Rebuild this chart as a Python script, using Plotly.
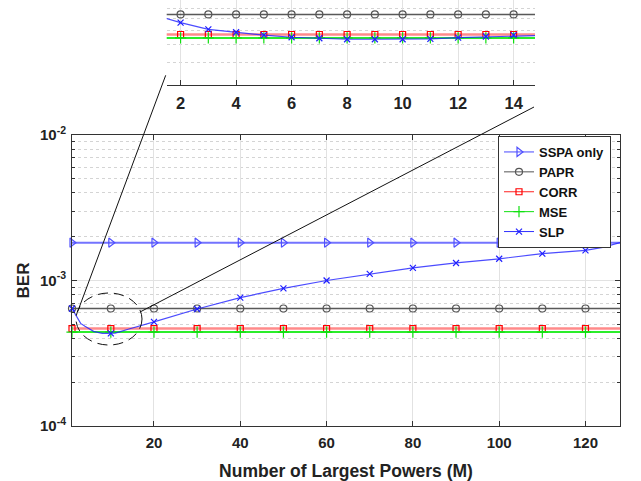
import plotly.graph_objects as go

# ---------------- data ----------------
M = [1, 2, 3, 4, 5, 6, 7, 8, 9, 10, 11, 12, 13, 14,
     20, 30, 40, 50, 60, 70, 80, 90, 100, 110, 120, 124, 126, 128]

ber_sspa = [1.82e-3, 1.82e-3, 1.82e-3, 1.82e-3, 1.82e-3, 1.82e-3, 1.82e-3,
            1.82e-3, 1.82e-3, 1.82e-3, 1.82e-3, 1.82e-3, 1.82e-3, 1.82e-3,
            1.82e-3, 1.82e-3, 1.82e-3, 1.82e-3, 1.82e-3, 1.82e-3, 1.82e-3,
            1.82e-3, 1.82e-3, 1.82e-3, 1.82e-3, 1.82e-3, 1.82e-3, 1.82e-3]
ber_papr = [6.42e-4, 6.42e-4, 6.42e-4, 6.42e-4, 6.42e-4, 6.42e-4, 6.42e-4,
            6.42e-4, 6.42e-4, 6.42e-4, 6.42e-4, 6.42e-4, 6.42e-4, 6.42e-4,
            6.42e-4, 6.42e-4, 6.42e-4, 6.42e-4, 6.42e-4, 6.42e-4, 6.42e-4,
            6.42e-4, 6.42e-4, 6.42e-4, 6.42e-4, 6.42e-4, 6.42e-4, 6.42e-4]
ber_corr = [4.67e-4, 4.67e-4, 4.67e-4, 4.67e-4, 4.67e-4, 4.67e-4, 4.67e-4,
            4.67e-4, 4.67e-4, 4.67e-4, 4.67e-4, 4.67e-4, 4.67e-4, 4.67e-4,
            4.67e-4, 4.67e-4, 4.67e-4, 4.67e-4, 4.67e-4, 4.67e-4, 4.67e-4,
            4.67e-4, 4.67e-4, 4.67e-4, 4.67e-4, 4.67e-4, 4.67e-4, 4.67e-4]
ber_mse = [4.42e-4, 4.42e-4, 4.42e-4, 4.42e-4, 4.42e-4, 4.42e-4, 4.42e-4,
           4.42e-4, 4.42e-4, 4.42e-4, 4.42e-4, 4.42e-4, 4.42e-4, 4.42e-4,
           4.42e-4, 4.42e-4, 4.42e-4, 4.42e-4, 4.42e-4, 4.42e-4, 4.42e-4,
           4.42e-4, 4.42e-4, 4.42e-4, 4.42e-4, 4.42e-4, 4.42e-4, 4.42e-4]
ber_slp = [6.42e-4, 5.64e-4, 5.07e-4, 4.84e-4, 4.62e-4, 4.47e-4, 4.40e-4,
           4.33e-4, 4.33e-4, 4.33e-4, 4.35e-4, 4.44e-4, 4.52e-4, 4.62e-4,
           5.19e-4, 6.37e-4, 7.62e-4, 8.83e-4, 1.00e-3, 1.11e-3, 1.22e-3,
           1.32e-3, 1.41e-3, 1.53e-3, 1.61e-3, 1.69e-3, 1.746e-3, 1.82e-3]

series_names = ["SSPA only", "PAPR", "CORR", "MSE", "SLP"]
series_values = [ber_sspa, ber_papr, ber_corr, ber_mse, ber_slp]

main_marker_M = [1, 10, 20, 30, 40, 50, 60, 70, 80, 90, 100, 110, 120]
inset_marker_M = [2, 3, 4, 5, 6, 7, 8, 9, 10, 11, 12, 13, 14]

x_ticks_main = [20, 40, 60, 80, 100, 120]
x_ticks_inset = [2, 4, 6, 8, 10, 12, 14]
y_ticks = [1e-4, 1e-3, 1e-2]
y_ticktext = ["10<sup>-4</sup>", "10<sup>-3</sup>", "10<sup>-2</sup>"]
y_minor = [2e-4, 3e-4, 4e-4, 5e-4, 6e-4, 7e-4, 8e-4, 9e-4,
           2e-3, 3e-3, 4e-3, 5e-3, 6e-3, 7e-3, 8e-3, 9e-3]
inset_minor = [2e-4, 3e-4, 4e-4, 5e-4, 6e-4, 7e-4, 8e-4, 9e-4]

# ---------------- styles ----------------
styles = {
    "SSPA only": dict(line=dict(color="rgba(40,40,255,0.65)", width=2),
                      marker=dict(symbol="triangle-right-open", size=8, color="#5050ff",
                                  line=dict(width=1.2, color="#5050ff"))),
    "PAPR": dict(line=dict(color="rgba(60,60,60,0.85)", width=1.5),
                 marker=dict(symbol="circle-open", size=7, color="#555555",
                             line=dict(width=1.2, color="#555555"))),
    "CORR": dict(line=dict(color="rgba(255,60,60,0.6)", width=2.5),
                 marker=dict(symbol="square-open", size=6, color="#ff0000",
                             line=dict(width=1.2, color="#ff0000"))),
    "MSE": dict(line=dict(color="rgba(20,235,20,0.9)", width=2),
                marker=dict(symbol="cross-thin-open", size=8, color="#10e010",
                            line=dict(width=1.2, color="#10e010"))),
    "SLP": dict(line=dict(color="rgba(30,30,255,0.8)", width=1.2),
                marker=dict(symbol="x-thin-open", size=6, color="#2020ff",
                            line=dict(width=1.2, color="#2020ff"))),
}
legend_line = {
    "SSPA only": dict(color="#4848ff", width=1),
    "PAPR": dict(color="#555555", width=1),
    "CORR": dict(color="#ff2020", width=1),
    "MSE": dict(color="#10e010", width=1),
    "SLP": dict(color="#3030ff", width=1),
}

FONT = "Liberation Sans, Arial, sans-serif"
W, H = 641, 481
ML, MR, MT, MB = 72, 21, 0, 55
PW, PH = W - ML - MR, H - MT - MB


def px(xp):
    return (xp - ML) / PW


def py(yp):
    return (H - MB - yp) / PH


fig = go.Figure()

for name, vals in zip(series_names, series_values):
    st = styles[name]
    fig.add_trace(go.Scatter(x=M, y=vals, mode="lines", line=st["line"],
                             xaxis="x", yaxis="y", showlegend=False, hoverinfo="skip"))
    mx = [m for m in M if m in main_marker_M]
    my = [v for m, v in zip(M, vals) if m in main_marker_M]
    fig.add_trace(go.Scatter(x=mx, y=my, mode="markers", marker=st["marker"],
                             xaxis="x", yaxis="y", showlegend=False, cliponaxis=False))
    fig.add_trace(go.Scatter(x=M, y=vals, mode="lines", line=st["line"],
                             xaxis="x2", yaxis="y2", showlegend=False))
    ix = [m for m in M if m in inset_marker_M]
    iy = [v for m, v in zip(M, vals) if m in inset_marker_M]
    fig.add_trace(go.Scatter(x=ix, y=iy, mode="markers", marker=st["marker"],
                             xaxis="x2", yaxis="y2", showlegend=False))

# legend entries
for name in series_names:
    st = styles[name]
    fig.add_trace(go.Scatter(x=[None], y=[None], mode="lines+markers", name=name,
                             line=legend_line[name], marker=st["marker"],
                             xaxis="x", yaxis="y"))

bold = dict(family=FONT, weight="bold", color="#222222")

fig.update_layout(
    width=W, height=H,
    margin=dict(l=ML, r=MR, t=MT, b=MB, autoexpand=False),
    paper_bgcolor="white", plot_bgcolor="white",
    font=dict(family=FONT, color="#222222"),
    showlegend=True,
    legend=dict(x=px(498), y=py(136), xanchor="left", yanchor="top",
                bgcolor="white", bordercolor="#333333", borderwidth=1,
                font=dict(family=FONT, size=13, weight="bold", color="#111111"),
                tracegroupgap=0),
    xaxis=dict(domain=[0, 1], anchor="y", range=[1, 128],
               tickvals=x_ticks_main, ticks="inside", ticklen=5, tickcolor="#333333",
               showline=True, linecolor="#333333", linewidth=1, mirror="ticks",
               showgrid=True, gridcolor="#e2e2e2", zeroline=False,
               tickfont=dict(size=15, **bold), automargin=False, ticklabelstandoff=3,
               title=dict(text="Number of Largest Powers (M)",
                          font=dict(size=17.5, **bold), standoff=14)),
    yaxis=dict(domain=[0, py(135)], anchor="x", type="log", range=[-4, -2],
               tickvals=y_ticks, ticktext=y_ticktext, ticks="inside", ticklen=5,
               tickcolor="#333333", showline=True, linecolor="#333333", linewidth=1,
               mirror="ticks", showgrid=True, gridcolor="#e2e2e2",
               tickfont=dict(size=15, **bold), automargin=False, ticklabelstandoff=2,
               minor=dict(tickvals=y_minor, ticks="inside", ticklen=3,
                          tickcolor="#333333", showgrid=True, gridcolor="#d4d4d4",
                          griddash="dot", gridwidth=1),
               title=dict(text="BER", font=dict(size=17, **bold), standoff=6)),
    xaxis2=dict(domain=[px(166.7), px(535)], anchor="y2", range=[1.5, 14.77],
                tickvals=x_ticks_inset, ticks="inside", ticklen=5, tickcolor="#333333",
                showline=True, linecolor="#333333", linewidth=1,
                showgrid=True, gridcolor="#e2e2e2", zeroline=False,
                tickfont=dict(size=16.5, **bold), automargin=False, ticklabelstandoff=3),
    yaxis2=dict(domain=[py(85.3), 1], anchor="x2", type="log", range=[-3.681, -3.093],
                showticklabels=False, showline=False, ticks="", showgrid=False,
                automargin=False,
                minor=dict(tickvals=inset_minor, ticks="", showgrid=True,
                           gridcolor="#d4d4d4", griddash="dot", gridwidth=1)),
    shapes=[
        dict(type="circle", xref="paper", yref="paper",
             x0=px(76), x1=px(142), y0=py(345), y1=py(293),
             line=dict(color="#111111", width=1, dash="10px,6px")),
        dict(type="line", xref="paper", yref="paper",
             x0=px(77.5), y0=py(312), x1=px(165.7), y1=py(75.3),
             line=dict(color="#111111", width=1)),
        dict(type="line", xref="paper", yref="paper",
             x0=px(140), y0=py(312), x1=px(534), y1=py(107),
             line=dict(color="#111111", width=1)),
    ],
)

fig.write_html("out.html")
